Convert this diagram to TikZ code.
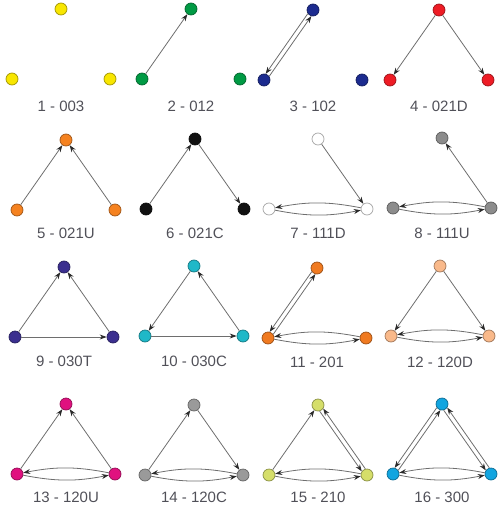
\documentclass[tikz,border=0pt]{standalone}
\usepackage{fontspec}
\setmainfont{Liberation Sans}
\usetikzlibrary{arrows.meta}
\definecolor{edgegray}{HTML}{6E6E6E}
\definecolor{tipdark}{HTML}{2A2A2A}
\definecolor{labgray}{HTML}{505058}
\definecolor{cA}{HTML}{F8E600}
\definecolor{cB}{HTML}{009A44}
\definecolor{cC}{HTML}{1C2B8F}
\definecolor{cD}{HTML}{EE1C25}
\definecolor{cE}{HTML}{F58220}
\definecolor{cF}{HTML}{111111}
\definecolor{cG}{HTML}{FFFFFF}
\definecolor{cH}{HTML}{8C8C8C}
\definecolor{cI}{HTML}{3B2F8F}
\definecolor{cJ}{HTML}{1FB8C8}
\definecolor{cK}{HTML}{F07A20}
\definecolor{cL}{HTML}{F9B98A}
\definecolor{cM}{HTML}{E0117F}
\definecolor{cN}{HTML}{9A9A9A}
\definecolor{cO}{HTML}{D5DE6A}
\definecolor{cP}{HTML}{12A5E0}
\tikzset{
  vtx/.style={circle, minimum size=12pt, inner sep=0pt, line width=0.7pt},
  e/.style={draw=edgegray, line width=0.8pt, -{Stealth[length=7pt,width=5pt,color=tipdark]}},
  lab/.style={text=labgray, font=\fontsize{15}{17}\selectfont},
}
\newcommand\triad[6]{%
  \node[vtx, fill=#4, draw=#4!65!black] (t#1T) at ({#2+49},#3) {};
  \node[vtx, fill=#4, draw=#4!65!black] (t#1L) at (#2,{#3+70}) {};
  \node[vtx, fill=#4, draw=#4!65!black] (t#1R) at ({#2+98},{#3+70}) {};
  \node[lab] (t#1lab) at ({#2+49},#6) {#5};
}
\begin{document}
\begin{tikzpicture}[x=1pt,y=-1pt]
\useasboundingbox (0,0) rectangle (498,511);
% row 1
\triad{1}{12}{9}{cA}{1 - 003}{106}
\triad{2}{142}{9}{cB}{2 - 012}{106}
\triad{3}{264}{10}{cC}{3 - 102}{106}
\triad{4}{390}{10}{cD}{4 - 021D}{106}
% row 2
\triad{5}{17}{140}{cE}{5 - 021U}{233}
\triad{6}{146}{139}{cF}{6 - 021C}{233}
\triad{7}{269}{139}{cG}{7 - 111D}{233}
\triad{8}{393}{138}{cH}{8 - 111U}{233}
% row 3
\triad{9}{15}{267}{cI}{9 - 030T}{361}
\triad{10}{145}{266}{cJ}{10 - 030C}{361}
\triad{11}{268}{268}{cK}{11 - 201}{362}
\triad{12}{391}{266}{cL}{12 - 120D}{362}
% row 4
\triad{13}{17}{404}{cM}{13 - 120U}{497}
\triad{14}{145}{405}{cN}{14 - 120C}{497}
\triad{15}{269}{405}{cO}{15 - 210}{497}
\triad{16}{393}{404}{cP}{16 - 300}{497}
% 2 - 012
\draw[e] (t2L) -- (t2T);
% 3 - 102
\draw[e] (t3L.35) -- (t3T.255);
\draw[e] (t3T.215) -- (t3L.75);
% 4 - 021D
\draw[e] (t4T) -- (t4L);
\draw[e] (t4T) -- (t4R);
% 5 - 021U
\draw[e] (t5L) -- (t5T);
\draw[e] (t5R) -- (t5T);
% 6 - 021C
\draw[e] (t6L) -- (t6T);
\draw[e] (t6T) -- (t6R);
% 7 - 111D
\draw[e] (t7T) -- (t7R);
\draw[e] (t7L) to[bend right=11] (t7R);
\draw[e] (t7R) to[bend right=11] (t7L);
% 8 - 111U
\draw[e] (t8R) -- (t8T);
\draw[e] (t8L) to[bend right=11] (t8R);
\draw[e] (t8R) to[bend right=11] (t8L);
% 9 - 030T
\draw[e] (t9L) -- (t9T);
\draw[e] (t9R) -- (t9T);
\draw[e] (t9L) -- (t9R);
% 10 - 030C
\draw[e] (t10T) -- (t10L);
\draw[e] (t10L) -- (t10R);
\draw[e] (t10R) -- (t10T);
% 11 - 201
\draw[e] (t11L.35) -- (t11T.255);
\draw[e] (t11T.215) -- (t11L.75);
\draw[e] (t11L) to[bend right=11] (t11R);
\draw[e] (t11R) to[bend right=11] (t11L);
% 12 - 120D
\draw[e] (t12T) -- (t12L);
\draw[e] (t12T) -- (t12R);
\draw[e] (t12L) to[bend right=11] (t12R);
\draw[e] (t12R) to[bend right=11] (t12L);
% 13 - 120U
\draw[e] (t13L) -- (t13T);
\draw[e] (t13R) -- (t13T);
\draw[e] (t13L) to[bend right=11] (t13R);
\draw[e] (t13R) to[bend right=11] (t13L);
% 14 - 120C
\draw[e] (t14L) -- (t14T);
\draw[e] (t14T) -- (t14R);
\draw[e] (t14L) to[bend right=11] (t14R);
\draw[e] (t14R) to[bend right=11] (t14L);
% 15 - 210
\draw[e] (t15L) -- (t15T);
\draw[e] (t15T.285) -- (t15R.145);
\draw[e] (t15R.105) -- (t15T.325);
\draw[e] (t15L) to[bend right=11] (t15R);
\draw[e] (t15R) to[bend right=11] (t15L);
% 16 - 300
\draw[e] (t16L.35) -- (t16T.255);
\draw[e] (t16T.215) -- (t16L.75);
\draw[e] (t16T.285) -- (t16R.145);
\draw[e] (t16R.105) -- (t16T.325);
\draw[e] (t16L) to[bend right=11] (t16R);
\draw[e] (t16R) to[bend right=11] (t16L);
\end{tikzpicture}
\end{document}
